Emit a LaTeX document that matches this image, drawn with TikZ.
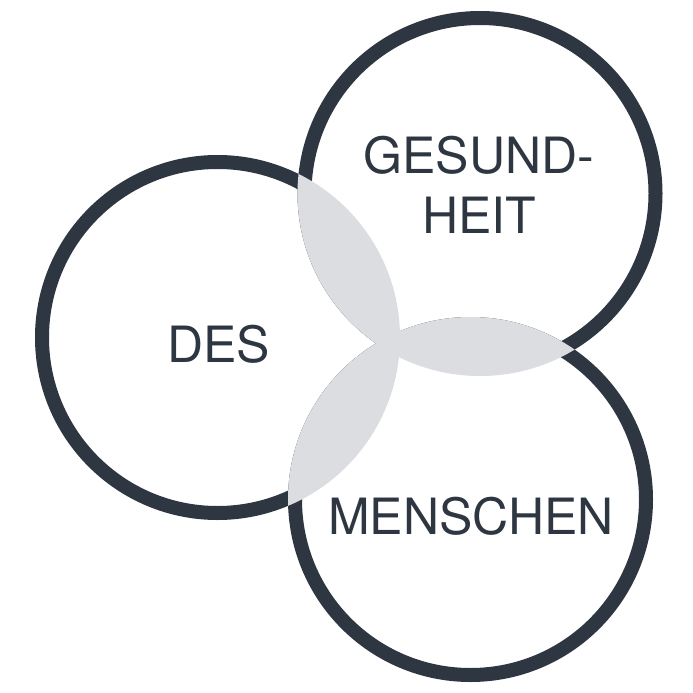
\documentclass[tikz,border=0pt]{standalone}
\usepackage{fontspec}
\setmainfont{TeX Gyre Heros}
\definecolor{ring}{HTML}{2E3741}
\definecolor{lens}{HTML}{DCDDE0}
\begin{document}
\begin{tikzpicture}[x=1pt,y=-1pt,
  ringstyle/.style={draw=ring,line width=14pt,fill=white},
  label/.style={text=ring,font=\fontsize{50}{60}\selectfont,anchor=base,inner sep=0pt}]
\useasboundingbox[fill=white] (0,0) rectangle (693,693);
\coordinate (cL) at (217.5,337.5);
\coordinate (cT) at (480,193.5);
\coordinate (cB) at (470.5,499.5);
\def\rr{175.5}
\def\ro{182.5}
\draw[ringstyle] (cL) circle[radius=\rr];
\draw[ringstyle] (cT) circle[radius=\rr];
\draw[ringstyle] (cB) circle[radius=\rr];
\begin{scope}
  \clip (cL) circle[radius=\ro];
  \fill[lens] (cT) circle[radius=\ro];
  \fill[lens] (cB) circle[radius=\ro];
\end{scope}
\begin{scope}
  \clip (cT) circle[radius=\ro];
  \fill[lens] (cB) circle[radius=\ro];
\end{scope}
\node[label] (des) at (218.5,362) {DES};
\node[label] (ges) at (479,173) {GESUND-};
\node[label] (heit) at (479,233) {HEIT};
\node[label] (men) at (471,534) {MENSCHEN};
\end{tikzpicture}
\end{document}
